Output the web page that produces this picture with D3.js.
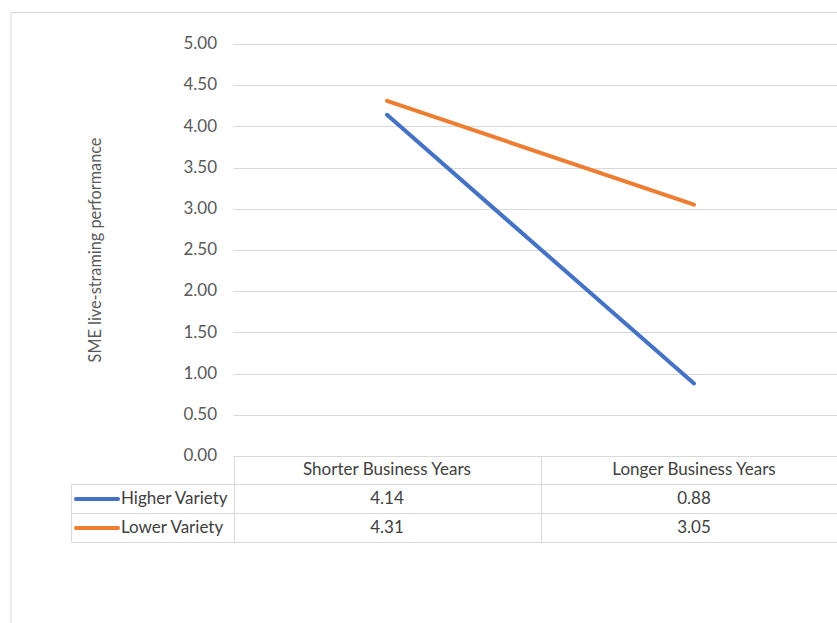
<!DOCTYPE html>
<html><head><meta charset="utf-8">
<script src="https://cdn.jsdelivr.net/npm/d3@7"></script>
<style>body{margin:0;background:#fff;} text{font-family:Lato,"Open Sans",sans-serif;}</style>
</head><body>
<svg id="c" width="837" height="623"></svg>
<script>
const categories = ["Shorter Business Years", "Longer Business Years"];
const seriesNames = ["Higher Variety", "Lower Variety"];
const higherVariety = [4.14, 0.88];
const lowerVariety = [4.31, 3.05];
const yTicks = [0, 0.5, 1, 1.5, 2, 2.5, 3, 3.5, 4, 4.5, 5];
const colors = ["#4472C4", "#ED7D31"];
const yTitle = "SME live-straming performance";

const series = [higherVariety, lowerVariety];
const svg = d3.select("#c");
const FS = 17;

// chart frame
svg.append("rect").attr("x", 11).attr("y", 12.5).attr("width", 900).attr("height", 700)
  .attr("fill", "none").attr("stroke", "#d9d9d9").attr("stroke-width", 1);

const x = d3.scaleBand().domain(categories).range([233.5, 847.5]);
const y = d3.scaleLinear().domain([0, 5]).range([456, 44]);

// gridlines
svg.append("g").selectAll("line").data(yTicks).join("line")
  .attr("x1", 233.5).attr("x2", 850)
  .attr("y1", d => Math.round(y(d)) + 0.5).attr("y2", d => Math.round(y(d)) + 0.5)
  .attr("stroke", "#d9d9d9").attr("stroke-width", 1);

// y tick labels
svg.append("g").selectAll("text").data(yTicks).join("text")
  .attr("x", 217).attr("y", d => y(d)).attr("dy", "0.3em")
  .attr("text-anchor", "end").attr("font-size", FS).attr("fill", "#595959")
  .text(d => d3.format(".2f")(d));

// y title
svg.append("text").attr("transform", "translate(101,250) rotate(-90)")
  .attr("text-anchor", "middle").attr("font-size", 16.3).attr("fill", "#595959").text(yTitle);

// lines
const line = d3.line().x((d, i) => x(categories[i]) + x.bandwidth() / 2).y(d => y(d));
svg.append("g").selectAll("path").data(series).join("path")
  .attr("d", d => line(d)).attr("fill", "none")
  .attr("stroke", (d, i) => colors[i]).attr("stroke-width", 4).attr("stroke-linecap", "round");

// data table
const rowTop = [456, 484, 513, 542];
const tg = svg.append("g").attr("stroke", "#d9d9d9").attr("stroke-width", 1);
tg.append("line").attr("x1", 233.5).attr("x2", 850).attr("y1", 456.5).attr("y2", 456.5);
[484, 513, 542].forEach(yy => tg.append("line").attr("x1", 71.5).attr("x2", 850).attr("y1", yy + 0.5).attr("y2", yy + 0.5));
tg.append("line").attr("x1", 71.5).attr("x2", 71.5).attr("y1", 484.5).attr("y2", 542.5);
categories.forEach(c => {
  tg.append("line").attr("x1", Math.round(x(c)) + 0.5).attr("x2", Math.round(x(c)) + 0.5).attr("y1", 456.5).attr("y2", 542.5);
});
svg.append("g").selectAll("text").data(categories).join("text")
  .attr("x", d => x(d) + x.bandwidth() / 2).attr("y", 470).attr("dy", "0.3em")
  .attr("text-anchor", "middle").attr("font-size", FS).attr("fill", "#404040").text(d => d);
series.forEach((s, i) => {
  const cy = (rowTop[i + 1] + rowTop[i + 2]) / 2 + 0.5;
  svg.append("line").attr("x1", 76).attr("x2", 118).attr("y1", cy).attr("y2", cy)
    .attr("stroke", colors[i]).attr("stroke-width", 4).attr("stroke-linecap", "round");
  svg.append("text").attr("x", 121).attr("y", cy).attr("dy", "0.3em")
    .attr("font-size", FS).attr("fill", "#404040").text(seriesNames[i]);
  s.forEach((v, j) => {
    svg.append("text").attr("x", x(categories[j]) + x.bandwidth() / 2).attr("y", cy).attr("dy", "0.3em")
      .attr("text-anchor", "middle").attr("font-size", FS).attr("fill", "#404040").text(d3.format(".2f")(v));
  });
});
</script>
</body></html>
